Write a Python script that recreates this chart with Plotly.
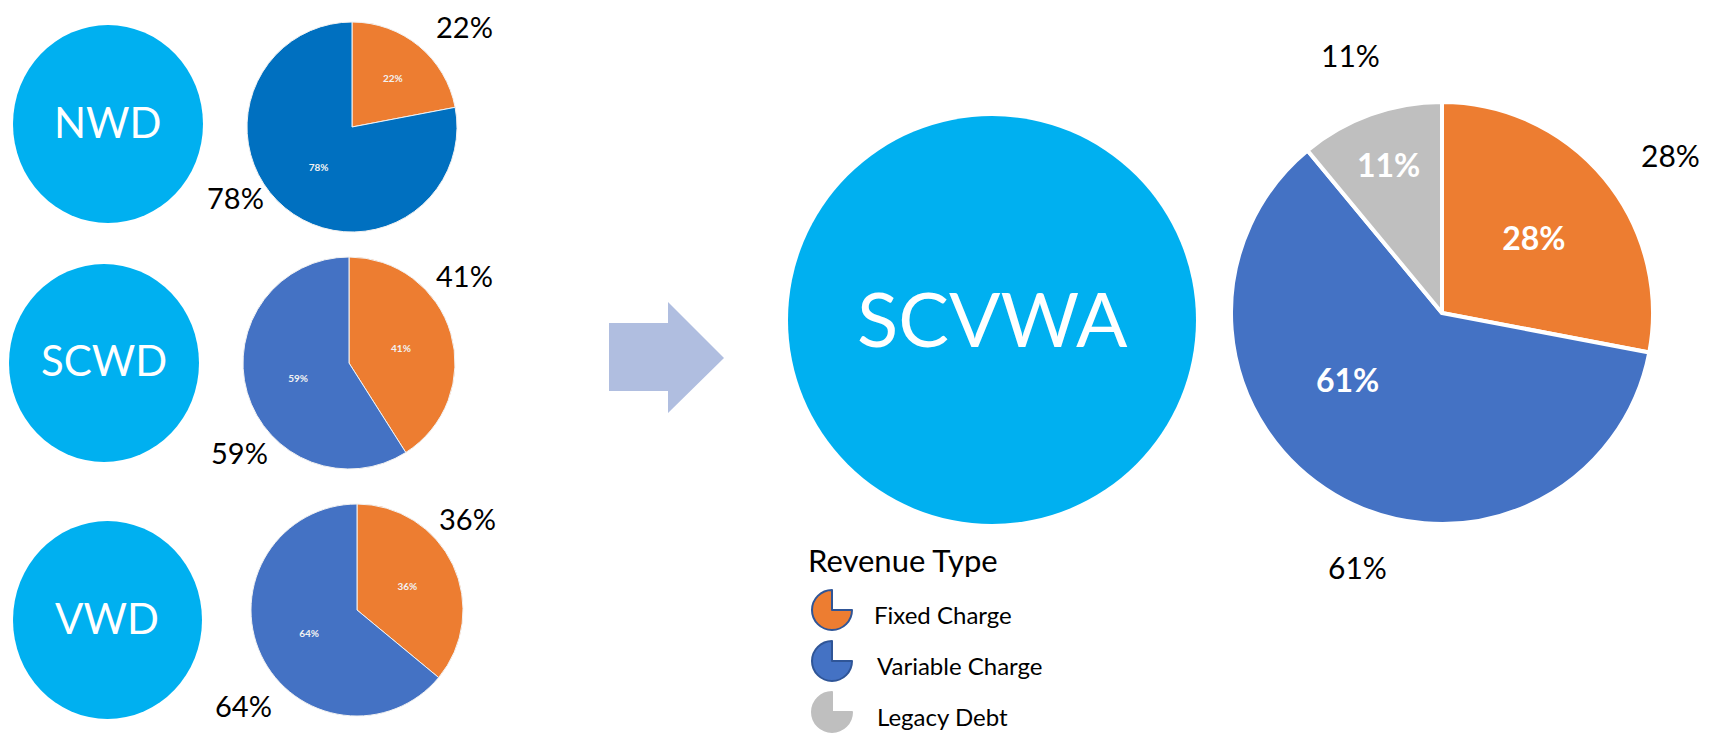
import plotly.graph_objects as go

# data
districts = ["NWD", "SCWD", "VWD"]
merged_agency = "SCVWA"
revenue_types = ["Fixed Charge", "Variable Charge", "Legacy Debt"]
nwd_share = [22, 78]
scwd_share = [41, 59]
vwd_share = [36, 64]
scvwa_share = [28, 61, 11]

W, H = 1709, 733
FONT = "Lato"
CYAN = "#00B0F0"
ORANGE = "#ED7D31"
BLUE = "#4472C4"
DARK_BLUE = "#0070C0"
GREY = "#BFBFBF"


def px(x):
    return x / W


def py(y):
    return 1 - y / H


def dom(cx, cy, d):
    return dict(x=[px(cx - d / 2), px(cx + d / 2)], y=[py(cy + d / 2), py(cy - d / 2)])


fig = go.Figure()

# small pies: (values, colours, centre, diameter, outside label positions)
small = [
    (nwd_share, [ORANGE, DARK_BLUE], (352, 127), 210, [(465, 27), (235, 198)]),
    (scwd_share, [ORANGE, BLUE], (349, 363), 212, [(465, 275), (240, 453)]),
    (vwd_share, [ORANGE, BLUE], (357, 610), 212, [(467, 518), (243, 705)]),
]

annotations = []
for vals, cols, (cx, cy), d, lab_pos in small:
    fig.add_trace(go.Pie(
        values=vals, labels=revenue_types[:len(vals)], sort=False, direction="clockwise", rotation=0,
        marker=dict(colors=cols, line=dict(color="#F2F2F2", width=1)),
        texttemplate="<b>%{value}%</b>", textposition="inside",
        insidetextfont=dict(family=FONT, size=10, color="#F2F2F2"),
        domain=dom(cx, cy, d), showlegend=False, hoverinfo="label+value",
    ))
    for v, (lx, ly) in zip(vals, lab_pos):
        annotations.append(dict(x=px(lx), y=py(ly), text=f"{v}%", showarrow=False,
                                font=dict(family=FONT, size=29, color="black"),
                                xanchor="center", yanchor="middle"))

# big merged pie (the 61% inner label is placed by hand, like the slide)
fig.add_trace(go.Pie(
    values=scvwa_share, labels=revenue_types, sort=False, direction="clockwise", rotation=0,
    marker=dict(colors=[ORANGE, BLUE, GREY], line=dict(color="white", width=4)),
    texttemplate="<b>%{value}%</b>", textposition=["inside", "none", "inside"],
    insidetextfont=dict(family=FONT, size=32, color="white"),
    domain=dom(1442, 313, 422), showlegend=False, hoverinfo="label+value",
))
annotations.append(dict(x=px(1347), y=py(379), text=f"<b>{scvwa_share[1]}%</b>", showarrow=False,
                        font=dict(family=FONT, size=32, color="white"),
                        xanchor="center", yanchor="middle"))
for v, (lx, ly) in zip(scvwa_share, [(1670, 155), (1357, 567), (1350, 55)]):
    annotations.append(dict(x=px(lx), y=py(ly), text=f"{v}%", showarrow=False,
                            font=dict(family=FONT, size=30, color="black"),
                            xanchor="center", yanchor="middle"))

# legend icons: three-quarter pies
icon_y = [610, 661, 712]
icon_fill = [ORANGE, BLUE, GREY]
icon_line = ["#2F5597", "#2F5597", GREY]
label_x = [872, 875, 875]
for name, iy, fc, lc, lx in zip(revenue_types, icon_y, icon_fill, icon_line, label_x):
    fig.add_trace(go.Pie(
        values=[1, 3], sort=False, direction="clockwise", rotation=0,
        marker=dict(colors=["rgba(0,0,0,0)", fc], line=dict(color=["rgba(0,0,0,0)", lc], width=2)),
        textinfo="none", hoverinfo="skip", showlegend=False,
        domain=dom(832, iy, 40),
    ))
    annotations.append(dict(x=px(lx), y=py(iy + 4), text=name, showarrow=False,
                            font=dict(family=FONT, size=24, color="black"),
                            xanchor="left", yanchor="middle"))

annotations.append(dict(x=px(806), y=py(560), text="Revenue Type", showarrow=False,
                        font=dict(family=FONT, size=31, color="black"),
                        xanchor="left", yanchor="middle"))

# district circles
shapes = []
circle_boxes = [(13, 25, 203, 223), (9, 264, 199, 462), (13, 521, 202, 719)]
text_centres = [(108, 122), (104, 360), (107, 618)]
for name, (x0, y0, x1, y1), (tx, ty) in zip(districts, circle_boxes, text_centres):
    shapes.append(dict(type="circle", xref="paper", yref="paper",
                       x0=px(x0), x1=px(x1), y0=py(y1), y1=py(y0),
                       fillcolor=CYAN, line=dict(width=0), layer="below"))
    annotations.append(dict(x=px(tx), y=py(ty), text=name, showarrow=False,
                            font=dict(family=FONT, size=42, color="white"),
                            xanchor="center", yanchor="middle"))

shapes.append(dict(type="circle", xref="paper", yref="paper",
                   x0=px(788), x1=px(1196), y0=py(524), y1=py(116),
                   fillcolor=CYAN, line=dict(width=0), layer="below"))
annotations.append(dict(x=px(992), y=py(317), text=merged_agency, showarrow=False,
                        font=dict(family=FONT, size=76, color="white"),
                        xanchor="center", yanchor="middle"))

# arrow
arrow = [(609, 323), (668, 323), (668, 302), (724, 358), (668, 413), (668, 391), (609, 391)]
path = "M " + " L ".join(f"{px(x)},{py(y)}" for x, y in arrow) + " Z"
shapes.append(dict(type="path", xref="paper", yref="paper", path=path,
                   fillcolor="#B0BEE0", line=dict(width=0), layer="below"))

fig.update_layout(
    width=W, height=H, margin=dict(l=0, r=0, t=0, b=0),
    paper_bgcolor="white", plot_bgcolor="white",
    shapes=shapes, annotations=annotations,
    font=dict(family=FONT),
)

# drop the default page margin so the figure sits flush in the window
fig.write_html("out.html", config={"displayModeBar": False},
               post_script="document.body.style.margin='0';")
